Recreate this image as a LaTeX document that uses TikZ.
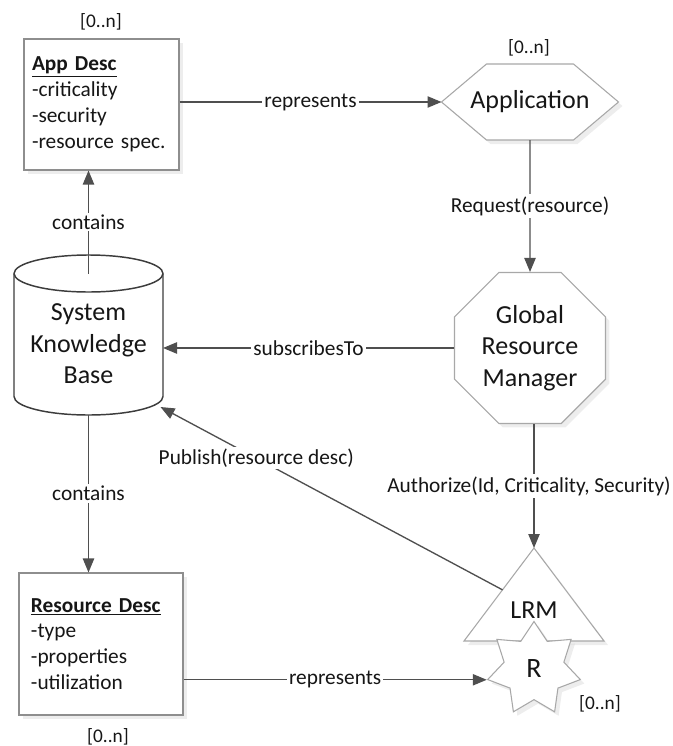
\documentclass[tikz,border=0pt]{standalone}
\usepackage{fontspec}
\setmainfont{Carlito}
\usetikzlibrary{shapes.geometric,shadows,arrows.meta,calc}
\newcommand\pxu{0.75pt}
\definecolor{linegray}{HTML}{4F4F4F}
\definecolor{shapegray}{HTML}{A8A8A8}
\definecolor{boxgray}{HTML}{8E8E8E}
\definecolor{cylgray}{HTML}{3C3C3C}
\definecolor{inkblack}{HTML}{161616}
\begin{document}
\begin{tikzpicture}[x=0.75pt,y=-0.75pt,
  every node/.style={text=inkblack},
  shade3/.style={drop shadow={shadow xshift=3pt,shadow yshift=-3pt,fill=black!14}},
  conn/.style={draw=linegray,line width=1pt,-{Triangle[length=10.5pt,width=8.5pt]}},
  lbl/.style={fill=white,inner sep=1.5pt,font=\fontsize{16}{19.4}\selectfont},
  mult/.style={font=\fontsize{14.5}{17}\selectfont},
  bigtext/.style={font=\fontsize{19.5}{23.6}\selectfont,align=center},
  descbox/.style={draw=boxgray,fill=white,line width=0.8pt,shade3,align=left,
    inner ysep=0pt,font=\fontsize{16}{19.4}\selectfont},
  outline/.style={draw=shapegray,fill=white,line width=0.8pt,shade3},
  frame/.style={inner sep=0pt,outer sep=0pt}
]
\useasboundingbox (0,0) rectangle (673,746);

% description boxes
\node[descbox,text width=139*\pxu,inner xsep=8*\pxu,minimum height=131*\pxu] (ad) at (101.5,104.5)
  {\underline{\textbf{App Desc}}\\-criticality\\-security\\-resource spec.};
\node[descbox,text width=140*\pxu,inner xsep=12*\pxu,minimum height=142*\pxu] (rd) at (101,644)
  {\underline{\textbf{Resource Desc}}\\-type\\-properties\\-utilization};

% application hexagon
\node[frame,minimum width=177*\pxu,minimum height=76*\pxu] (app) at (530,102) {};
\draw[outline] (app.west) -- ([xshift=45*\pxu]app.north west) -- ([xshift=-45*\pxu]app.north east)
  -- (app.east) -- ([xshift=-45*\pxu]app.south east) -- ([xshift=45*\pxu]app.south west) -- cycle;
\node[bigtext] (apptext) at (app.center) {Application};

% global resource manager octagon
\node[outline,regular polygon,regular polygon sides=8,minimum size=163.4*\pxu,inner sep=0pt,bigtext]
  (grm) at (530,348) {Global\\Resource\\Manager};

% system knowledge base cylinder
\node[frame,minimum width=149*\pxu,minimum height=160*\pxu] (skb) at (88.5,335) {};
\draw[draw=cylgray,fill=white,line width=1.1pt]
  ([yshift=-18.5*\pxu]skb.north west) -- ([yshift=18.5*\pxu]skb.south west)
  arc[start angle=180,end angle=360,x radius=74.5*\pxu,y radius=18.5*\pxu]
  -- ([yshift=-18.5*\pxu]skb.north east)
  arc[start angle=0,end angle=180,x radius=74.5*\pxu,y radius=18.5*\pxu] -- cycle;
\draw[draw=cylgray,line width=1.1pt] ([yshift=-18.5*\pxu]skb.north west)
  arc[start angle=180,end angle=360,x radius=74.5*\pxu,y radius=18.5*\pxu];
\node[bigtext] (skbtext) at ([yshift=-9*\pxu]skb.center) {System\\Knowledge\\Base};
\coordinate (skbtop) at ([yshift=-18.5*\pxu]skb.north);
\coordinate (skbpub) at ([xshift=72*\pxu,yshift=8*\pxu]skb.south);

% local resource manager triangle and resource star
\node[frame,minimum width=140*\pxu,minimum height=93*\pxu] (lrm) at (534,594.5) {};
\draw[outline] (lrm.south west) -- (lrm.north) -- (lrm.south east) -- cycle;
\node[bigtext] (lrmtext) at ([yshift=-15.5*\pxu]lrm.center) {LRM};
\node[outline,star,star points=7,star point ratio=1.55,minimum size=95*\pxu,inner sep=0pt,
  font=\fontsize{21}{25}\selectfont] (res) at (534,669) {R};

% multiplicities
\node[mult] (m1) at (101,22) {[0..n]};
\node[mult] (m2) at (529,48) {[0..n]};
\node[mult] (m3) at (600,704) {[0..n]};
\node[mult] (m4) at (108,737) {[0..n]};

% connectors
\draw[conn] (ad.east |- app.west) -- node[lbl] {represents} (app.west);
\draw[conn] (app.south) -- node[lbl] {Request(resource)} (grm.north);
\draw[conn] (grm.west) -- node[lbl] {subscribesTo} (grm.west -| skb.east);
\draw[conn] (skbtop) -- node[lbl] {contains} (ad.south -| skbtop);
\draw[conn] (skb.south) -- node[lbl] {contains} (rd.north -| skb.south);
\draw[conn] (lrm.north |- grm.south) -- node[lbl,xshift=-5*\pxu] {Authorize(Id, Criticality, Security)} (lrm.north);
\draw[conn] ($(lrm.north)!0.45!(lrm.south west)$) -- node[lbl,pos=0.72] {Publish(resource desc)} (skbpub);
\draw[conn] (res.outer point 3 -| rd.east) -- node[lbl] {represents} (res.outer point 3);
\end{tikzpicture}
\end{document}
